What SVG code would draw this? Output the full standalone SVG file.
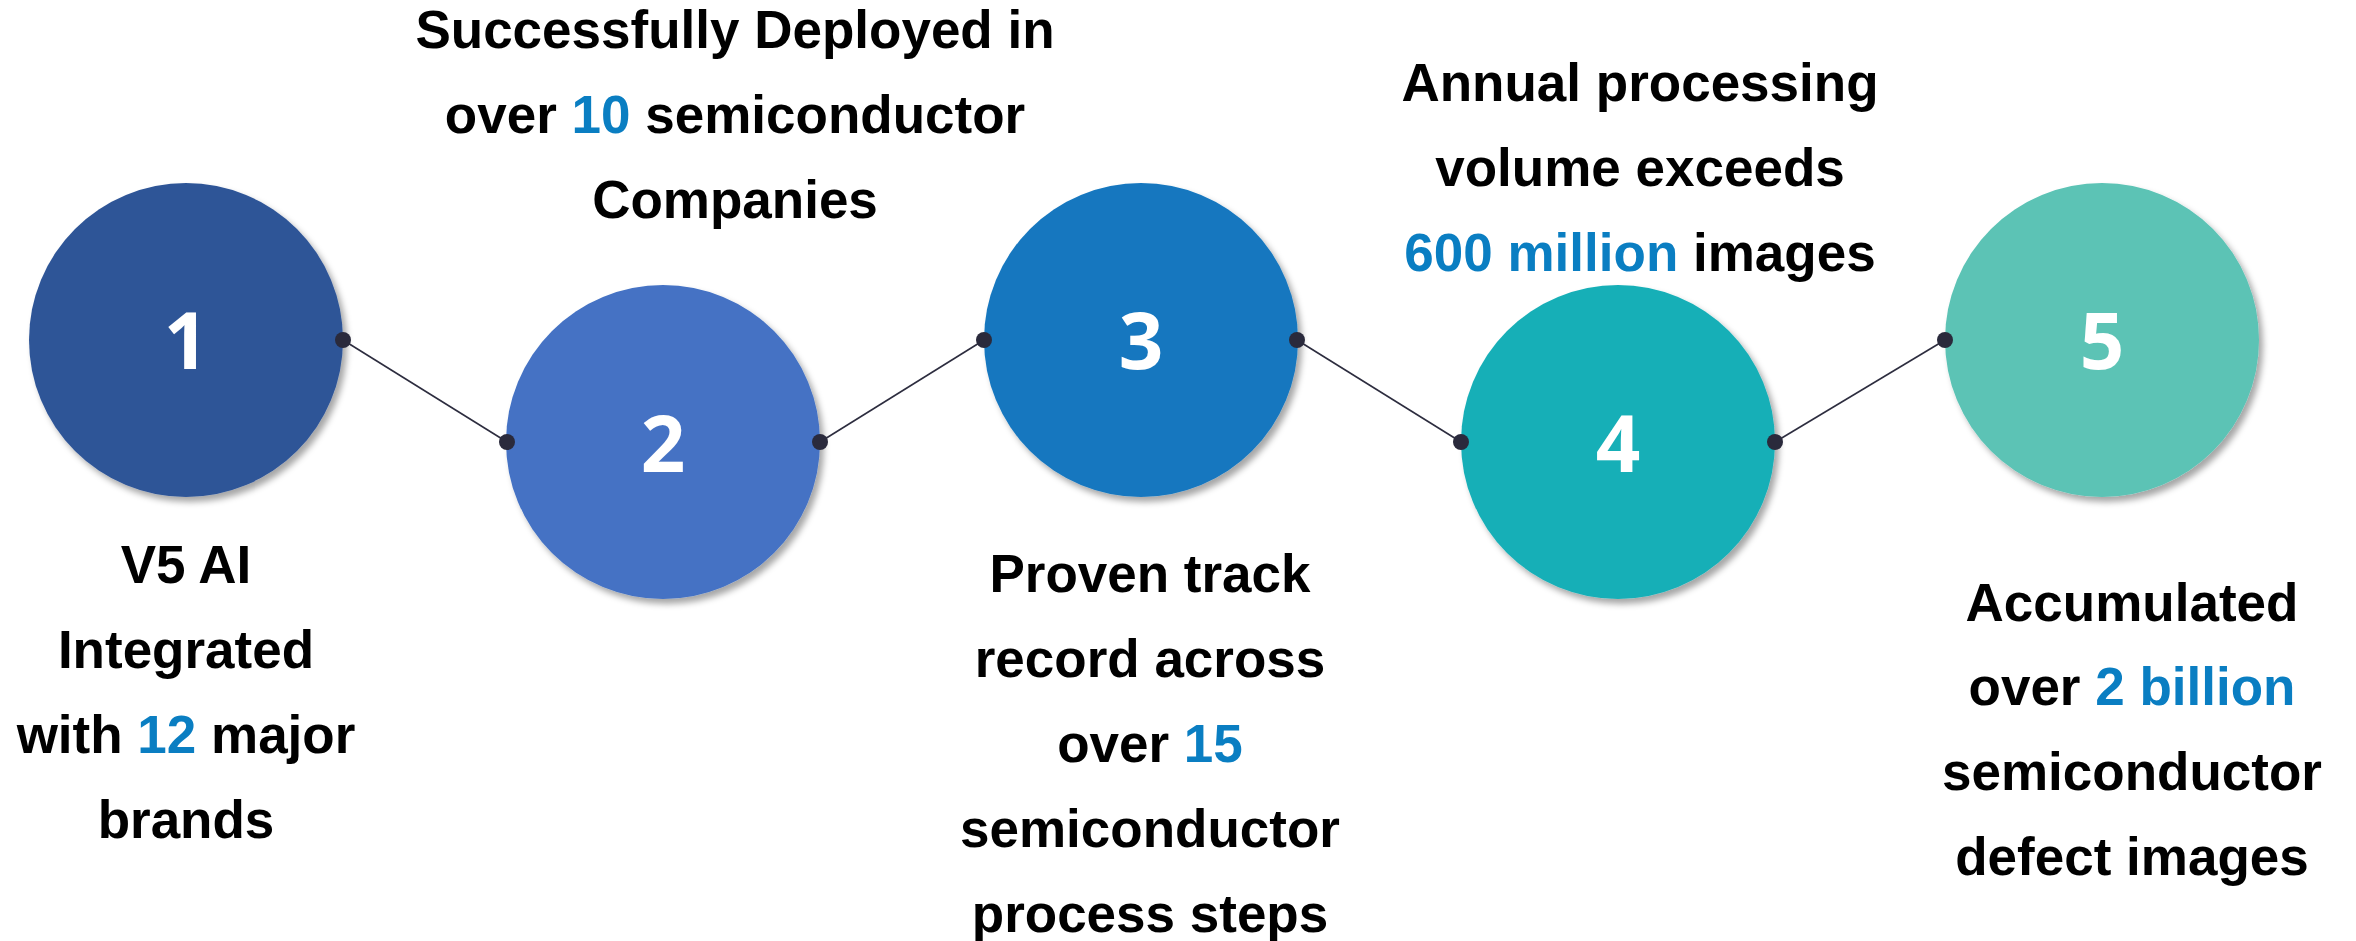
<svg xmlns="http://www.w3.org/2000/svg" width="2356" height="941" viewBox="0 0 2356 941">
<style>
.lbl{font-family:"Liberation Sans",Arial,sans-serif;font-weight:700;font-size:53px;fill:#000;text-anchor:middle}
.hl{fill:#0A7EC2}
.num{font-family:"Open Sans","Noto Sans",sans-serif;font-weight:700;font-size:78px;fill:#fff;text-anchor:middle}
.conn{stroke:#2d2d3f;stroke-width:1.6;fill:none}
.dot{fill:#2a2a3c}
</style>
<defs>
<filter id="sh" x="-20%" y="-20%" width="140%" height="140%">
<feDropShadow dx="4" dy="5" stdDeviation="3" flood-color="#000" flood-opacity="0.35"/>
</filter>
</defs>
<rect width="2356" height="941" fill="#fff"/>
<g id="node1">
<circle cx="186" cy="340" r="157" fill="#2F5597" filter="url(#sh)"/>
<text class="num" x="186" y="369">1</text>
<text class="lbl" x="186" y="583">V5 AI</text>
<text class="lbl" x="186" y="668">Integrated</text>
<text class="lbl" x="186" y="753">with <tspan class="hl">12</tspan> major</text>
<text class="lbl" x="186" y="838">brands</text>
</g>
<g id="node2">
<circle cx="663" cy="442" r="157" fill="#4472C4" filter="url(#sh)"/>
<text class="num" x="663" y="472">2</text>
<text class="lbl" x="735" y="48">Successfully Deployed in</text>
<text class="lbl" x="735" y="133">over <tspan class="hl">10</tspan> semiconductor</text>
<text class="lbl" x="735" y="218">Companies</text>
</g>
<g id="node3">
<circle cx="1141" cy="340" r="157" fill="#1577BF" filter="url(#sh)"/>
<text class="num" x="1141" y="369">3</text>
<text class="lbl" x="1150" y="592">Proven track</text>
<text class="lbl" x="1150" y="677">record across</text>
<text class="lbl" x="1150" y="762">over <tspan class="hl">15</tspan></text>
<text class="lbl" x="1150" y="847">semiconductor</text>
<text class="lbl" x="1150" y="932">process steps</text>
</g>
<g id="node4">
<circle cx="1618" cy="442" r="157" fill="#18AFB7" filter="url(#sh)"/>
<text class="num" x="1618" y="472">4</text>
<text class="lbl" x="1640" y="101">Annual processing</text>
<text class="lbl" x="1640" y="186">volume exceeds</text>
<text class="lbl" x="1640" y="271"><tspan class="hl">600 million</tspan> images</text>
</g>
<g id="node5">
<circle cx="2102" cy="340" r="157" fill="#5BC3B5" filter="url(#sh)"/>
<text class="num" x="2102" y="369">5</text>
<text class="lbl" x="2132" y="621">Accumulated</text>
<text class="lbl" x="2132" y="705">over <tspan class="hl">2 billion</tspan></text>
<text class="lbl" x="2132" y="790">semiconductor</text>
<text class="lbl" x="2132" y="875">defect images</text>
</g>
<g id="connectors">
<line class="conn" x1="343" y1="340" x2="507" y2="442"/>
<line class="conn" x1="820" y1="442" x2="984" y2="340"/>
<line class="conn" x1="1297" y1="340" x2="1461" y2="442"/>
<line class="conn" x1="1775" y1="442" x2="1945" y2="340"/>
<circle class="dot" cx="343" cy="340" r="8"/>
<circle class="dot" cx="507" cy="442" r="8"/>
<circle class="dot" cx="820" cy="442" r="8"/>
<circle class="dot" cx="984" cy="340" r="8"/>
<circle class="dot" cx="1297" cy="340" r="8"/>
<circle class="dot" cx="1461" cy="442" r="8"/>
<circle class="dot" cx="1775" cy="442" r="8"/>
<circle class="dot" cx="1945" cy="340" r="8"/>
</g>
</svg>
